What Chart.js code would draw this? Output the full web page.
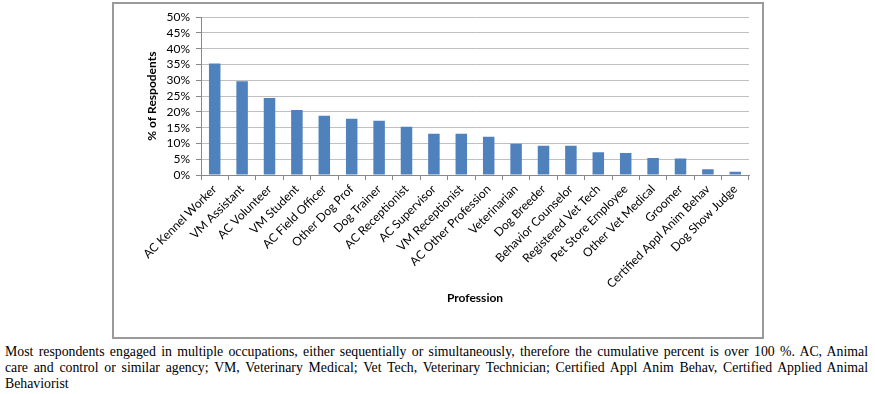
<!DOCTYPE html>
<html>
<head>
<meta charset="utf-8">
<script src="https://cdn.jsdelivr.net/npm/chart.js@4"></script>
<style>
  html, body { margin: 0; padding: 0; background: #fff; width: 875px; height: 394px; overflow: hidden; }
  #box { position: absolute; left: 112px; top: 2px; width: 648px; height: 333px; border: 2px solid #9a9a9a; }
  #c { display: block; }
  #caption { position: absolute; left: 5px; top: 344px; width: 863px; font-family: "Liberation Serif", "Times New Roman", serif; font-size: 13.8px; line-height: 16px; color: #000; }
  #caption .j { text-align: justify; text-align-last: justify; white-space: nowrap; }
</style>
</head>
<body>
<div id="box"><canvas id="c" width="648" height="333"></canvas></div>
<div id="caption">
  <div class="j">Most respondents engaged in multiple occupations, either sequentially or simultaneously, therefore the cumulative percent is over 100 %. AC, Animal</div>
  <div class="j">care and control or similar agency; VM, Veterinary Medical; Vet Tech, Veterinary Technician; Certified Appl Anim Behav, Certified Applied Animal</div>
  <div>Behaviorist</div>
</div>
<script>
const professions = ["AC Kennel Worker", "VM Assistant", "AC Volunteer", "VM Student", "AC Field Officer", "Other Dog Prof", "Dog Trainer", "AC Receptionist", "AC Supervisor", "VM Receptionist", "AC Other Profession", "Veterinarian", "Dog Breeder", "Behavior Counselor", "Registered Vet Tech", "Pet Store Employee", "Other Vet Medical", "Groomer", "Certified Appl Anim Behav", "Dog Show Judge"];
const percentRespondents = [35.3, 29.7, 24.4, 20.6, 18.8, 17.8, 17.2, 15.3, 13.1, 13.1, 12.1, 9.9, 9.3, 9.3, 7.2, 7.0, 5.4, 5.2, 1.8, 1.0];
const yTicks = [0, 5, 10, 15, 20, 25, 30, 35, 40, 45, 50];
const yTitle = "% of Respodents";
const xTitle = "Profession";

const FONT = "Lato, 'Open Sans', sans-serif";

new Chart(document.getElementById('c'), {
  type: 'bar',
  data: {
    labels: professions,
    datasets: [{
      data: percentRespondents,
      backgroundColor: '#4F81BD',
      borderColor: '#4A7EBB',
      borderWidth: 0,
      barPercentage: 0.42,
      categoryPercentage: 1.0
    }]
  },
  options: {
    responsive: false,
    animation: false,
    devicePixelRatio: 1,
    layout: { padding: { left: 31, right: 13, top: 11, bottom: 32 } },
    plugins: { legend: { display: false }, tooltip: { enabled: false } },
    scales: {
      x: {
        offset: true,
        grid: { display: true, drawOnChartArea: false, drawTicks: true, tickLength: 5, color: '#888', offset: true },
        border: { display: true, color: '#888' },
        ticks: { autoSkip: false, minRotation: 45, maxRotation: 45, color: '#000', font: { family: FONT, size: 12 }, padding: 2 },
        title: { display: true, text: xTitle, color: '#000', font: { family: FONT, size: 12, weight: 'bold' }, padding: { top: 4, bottom: 0 } },
        afterFit: (s) => { s.height = 130; }
      },
      y: {
        min: yTicks[0], max: yTicks[yTicks.length - 1],
        afterBuildTicks: (s) => { s.ticks = yTicks.map(v => ({ value: v })); },
        grid: { color: '#C0C0C0', tickColor: '#888', tickLength: 5, drawTicks: true },
        border: { display: true, color: '#888' },
        ticks: { autoSkip: false, stepSize: 5, color: '#000', font: { family: FONT, size: 12 }, padding: 6, callback: (v) => v + '%' },
        title: { display: true, text: yTitle, color: '#000', font: { family: FONT, size: 12, weight: 'bold' }, padding: { top: 0, bottom: 0 } },
        afterFit: (s) => { s.width = 56; }
      }
    }
  }
});
</script>
</body>
</html>
